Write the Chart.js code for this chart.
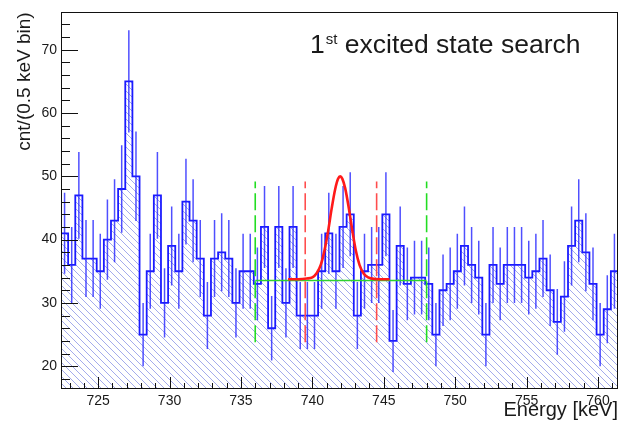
<!DOCTYPE html>
<html>
<head>
<meta charset="utf-8">
<script src="https://cdn.jsdelivr.net/npm/chart.js@4.4.1/dist/chart.umd.min.js"></script>
<style>
html,body{margin:0;padding:0;background:#fff;}
#c{display:block;}
</style>
</head>
<body>
<canvas id="c" width="621" height="430"></canvas>
<script>
/* ===== Spectrum: counts per 0.5 keV bin ===== */
const binStart = 722.4;   // keV, lower edge of the first bin
const binWidth = 0.5;     // keV
const counts = [
  41,36,47,37,37,35,40,43,48,65,
  50,25,35,47,30,39,35,46,43,37,
  28,37,38,37,30,35,35,33,42,26,
  42,30,42,28,28,28,35,41,35,42,
  44,28,35,36,36,44,24,39,33,34,
  34,33,25,32,33,35,39,36,34,25,
  36,33,36,36,36,34,35,37,32,27,
  31,39,43,38,33,25,29,35
];

/* ===== Peak fit (gaussian on flat background) ===== */
const fitE = [738.3,739.0,739.6,740.0,740.3,740.6,740.85,741.1,741.35,741.6,741.8,741.95,742.1,742.3,742.55,742.8,743.05,743.3,743.6,743.9,744.3,744.8,745.4];
const fitV = [33.75,33.75,33.85,34.05,34.7,36.1,38.3,41.3,44.9,48.0,49.6,50.0,49.6,48.1,45.0,41.4,38.2,36.0,34.6,34.05,33.8,33.75,33.75];

/* ===== Search window / peak region ===== */
const bkgLevel = 33.55;
const windowEdges = [736, 748];
const peakEdges = [739.5, 744.5];
const markerSpan = [23.8, 49.2];

/* ===== Axis ticks ===== */
const xTicks = [725, 730, 735, 740, 745, 750, 755, 760];
const yTicks = [20, 30, 40, 50, 60, 70];

/* ===== Build datasets ===== */
const histPts = counts.map((c, i) => ({x: binStart + i * binWidth, y: c}));
histPts.push({x: binStart + counts.length * binWidth, y: counts[counts.length - 1]});

const errPts = [];
counts.forEach((c, i) => {
  const xc = binStart + (i + 0.5) * binWidth, e = Math.sqrt(c);
  errPts.push({x: xc, y: c - e}, {x: xc, y: c + e}, {x: xc, y: null});
});

const fitPts = fitE.map((e, i) => ({x: e, y: fitV[i]}));
const vline = (e) => [{x: e, y: markerSpan[0]}, {x: e, y: markerSpan[1]}];

// diagonal hatch for the histogram body
function hatch() {
  const s = 7, p = document.createElement('canvas');
  p.width = s; p.height = s;
  const g = p.getContext('2d');
  g.strokeStyle = '#a4abec'; g.lineWidth = 1;
  g.beginPath();
  for (const k of [-s, 0, s]) { g.moveTo(k, 0); g.lineTo(k + s, s); }
  g.stroke();
  return document.getElementById('c').getContext('2d').createPattern(p, 'repeat');
}

const base = {pointRadius: 0, pointHoverRadius: 0, fill: false, tension: 0};

/* ===== Frame + inward ticks ===== */
const frameTicks = {
  id: 'frameTicks',
  afterDatasetsDraw(chart) {
    const {ctx, chartArea: a, scales: {x, y}} = chart;
    ctx.save();
    ctx.strokeStyle = '#111'; ctx.lineWidth = 1;
    ctx.beginPath();
    for (let v = 723; v <= 761; v++) {
      const px = Math.round(x.getPixelForValue(v)) + 0.5;
      ctx.moveTo(px, a.bottom); ctx.lineTo(px, a.bottom - (v % 5 === 0 ? 12 : 6));
    }
    for (let v = 18; v <= 74; v += 2) {
      const py = Math.round(y.getPixelForValue(v)) + 0.5;
      ctx.moveTo(a.left, py); ctx.lineTo(a.left + (v % 10 === 0 ? 17 : 9), py);
    }
    ctx.stroke();
    ctx.strokeRect(Math.round(a.left) + 0.5, Math.round(a.top) + 0.5,
      Math.round(a.right - a.left) - 1, Math.round(a.bottom - a.top) - 1);
    ctx.restore();
  }
};

/* ===== Caption with superscript ===== */
const caption = {
  id: 'caption',
  afterDraw(chart) {
    const ctx = chart.ctx;
    ctx.save();
    ctx.fillStyle = '#1a1a1a'; ctx.textBaseline = 'alphabetic';
    let x = 310;
    ctx.font = '26.5px "Liberation Sans", Arial, sans-serif';
    ctx.fillText('1', x, 52.5); x += ctx.measureText('1').width + 1;
    ctx.font = '15px "Liberation Sans", Arial, sans-serif';
    ctx.fillText('st', x, 43.5); x += ctx.measureText('st').width;
    ctx.font = '26.5px "Liberation Sans", Arial, sans-serif';
    ctx.fillText(' excited state search', x, 52.5);
    ctx.restore();
  }
};

const font = (size) => ({family: '"Liberation Sans", Arial, sans-serif', size});

new Chart(document.getElementById('c'), {
  type: 'line',
  data: {
    datasets: [
      {...base, data: fitPts, borderColor: '#ff1a1a', borderWidth: 2.6, cubicInterpolationMode: 'monotone'},
      {...base, data: vline(peakEdges[0]), borderColor: '#ff4d4d', borderWidth: 1.6, borderDash: [17, 5]},
      {...base, data: vline(peakEdges[1]), borderColor: '#ff4d4d', borderWidth: 1.6, borderDash: [17, 5]},
      {...base, data: vline(windowEdges[0]), borderColor: '#22dd22', borderWidth: 1.6, borderDash: [17, 5]},
      {...base, data: vline(windowEdges[1]), borderColor: '#22dd22', borderWidth: 1.6, borderDash: [17, 5]},
      {...base, data: windowEdges.map(e => ({x: e, y: bkgLevel})), borderColor: '#2fd12f', borderWidth: 1.6},
      {...base, data: errPts, borderColor: 'rgba(35,35,255,0.8)', borderWidth: 1.5, spanGaps: false},
      {...base, data: histPts, borderColor: '#1a1aff', borderWidth: 1.8, stepped: 'before',
        fill: 'start', backgroundColor: hatch()}
    ]
  },
  options: {
    responsive: false, animation: false, devicePixelRatio: 1,
    layout: {padding: {top: 9, right: 3, bottom: 0, left: 0}},
    plugins: {legend: {display: false}, tooltip: {enabled: false}},
    scales: {
      x: {
        type: 'linear', min: binStart, max: binStart + counts.length * binWidth,
        grid: {display: false, drawTicks: false}, border: {display: false},
        afterBuildTicks: s => { s.ticks = xTicks.map(v => ({value: v})); },
        afterFit: s => { s.height = 41; },
        ticks: {autoSkip: false, maxRotation: 0, padding: 4, color: '#1a1a1a', font: font(14)},
        title: {display: true, text: 'Energy [keV]', align: 'end', color: '#1a1a1a', font: font(20),
          padding: {top: 0, bottom: 8}}
      },
      y: {
        type: 'linear', min: 16.4, max: 75.9,
        grid: {display: false, drawTicks: false}, border: {display: false},
        afterBuildTicks: s => { s.ticks = yTicks.map(v => ({value: v})); },
        afterFit: s => { s.width = 61; },
        ticks: {autoSkip: false, padding: 4, color: '#1a1a1a', font: font(14)},
        title: {display: true, text: 'cnt/(0.5 keV bin)', align: 'end', color: '#1a1a1a', font: font(19),
          padding: {top: 13, bottom: 0}}
      }
    }
  },
  plugins: [frameTicks, caption]
});
</script>
</body>
</html>
